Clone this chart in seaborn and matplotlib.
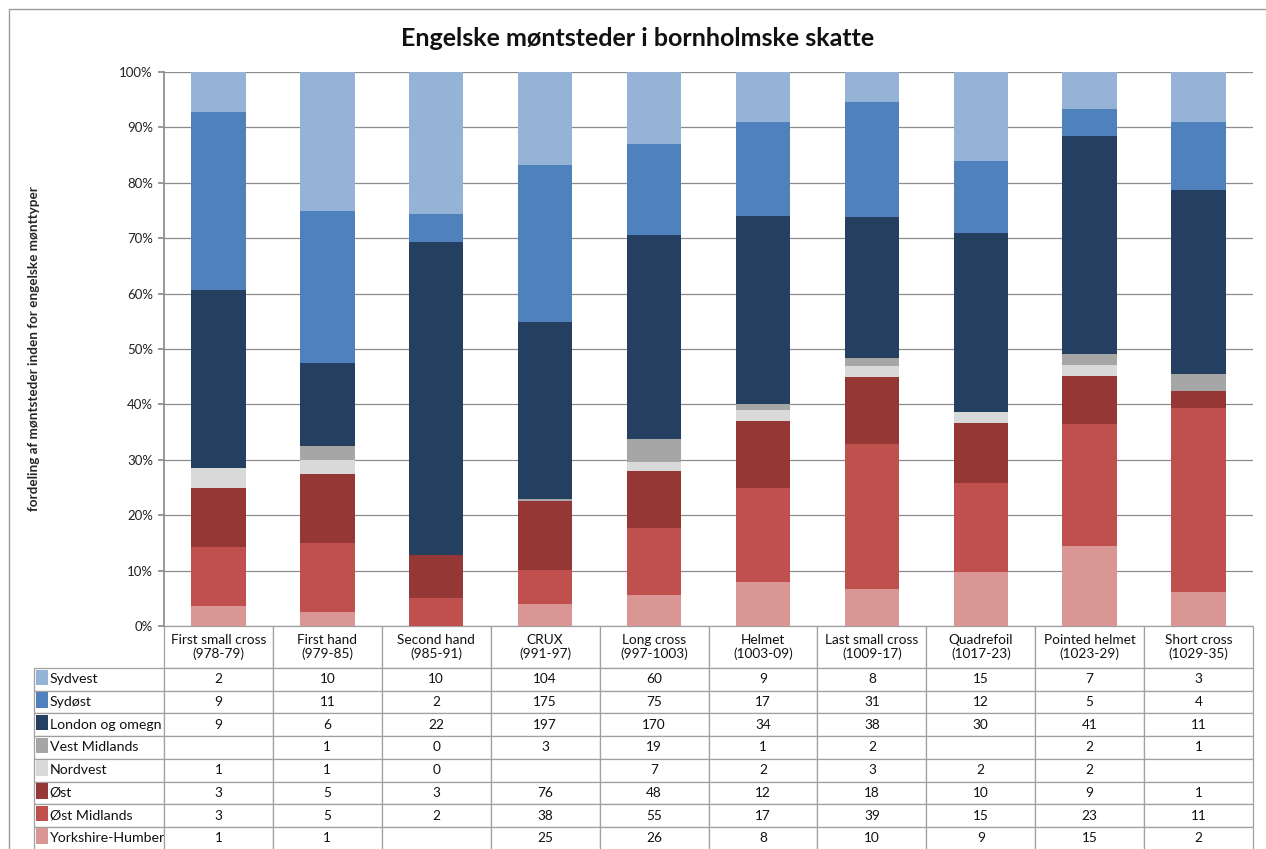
import numpy as np
import pandas as pd
import matplotlib.pyplot as plt
import seaborn as sns
from matplotlib.patches import Rectangle

# Coin types (columns of the table)
types = ['First small cross\n(978-79)', 'First hand\n(979-85)', 'Second hand\n(985-91)',
         'CRUX\n(991-97)', 'Long cross\n(997-1003)', 'Helmet\n(1003-09)',
         'Last small cross\n(1009-17)', 'Quadrefoil\n(1017-23)', 'Pointed helmet\n(1023-29)',
         'Short cross\n(1029-35)']

# Mint regions, table order (top to bottom)
regions = ['Sydvest', 'Sydøst', 'London og omegn', 'Vest Midlands', 'Nordvest',
           'Øst', 'Øst Midlands', 'Yorkshire-Humber']

# Counts per region (None = blank cell in the table)
sydvest = [2, 10, 10, 104, 60, 9, 8, 15, 7, 3]
sydost = [9, 11, 2, 175, 75, 17, 31, 12, 5, 4]
london = [9, 6, 22, 197, 170, 34, 38, 30, 41, 11]
vest_midlands = [None, 1, 0, 3, 19, 1, 2, None, 2, 1]
nordvest = [1, 1, 0, None, 7, 2, 3, 2, 2, None]
ost = [3, 5, 3, 76, 48, 12, 18, 10, 9, 1]
ost_midlands = [3, 5, 2, 38, 55, 17, 39, 15, 23, 11]
yorkshire = [1, 1, None, 25, 26, 8, 10, 9, 15, 2]

colors = ['#95B3D7', '#4F81BD', '#243F60', '#A6A6A6', '#D9D9D9',
          '#953735', '#C0504D', '#D99694']

counts = pd.DataFrame([sydvest, sydost, london, vest_midlands, nordvest,
                       ost, ost_midlands, yorkshire],
                      index=regions, columns=types, dtype=float)

sns.set_theme(style='white')
plt.rcParams['font.family'] = ['Lato', 'DejaVu Sans']

W, H = 1266, 849
AX_W, AX_H = 1089.0, 554.0
fig = plt.figure(figsize=(W / 100, H / 100), dpi=100)
ax = fig.add_axes([164 / W, (H - 626) / H, AX_W / W, AX_H / H])

# percentages, stacked from the bottom (Yorkshire-Humber) upward
filled = counts.fillna(0)
pct = filled / filled.sum(axis=0) * 100
cum = pct.iloc[::-1].cumsum()  # bottom-to-top cumulative

# draw the tallest layer first, then overlay the lower cumulative layers
for region in regions:
    c = colors[regions.index(region)]
    layer = pd.DataFrame({'type': types, 'value': cum.loc[region].values})
    sns.barplot(data=layer, x='type', y='value', color=c, saturation=1,
                width=0.5, linewidth=0, ax=ax, zorder=3)

ax.set_xlim(-0.5, len(types) - 0.5)
ax.set_ylim(0, 100)
ax.set_yticks(range(0, 101, 10))
ax.set_yticklabels([f'{v}%' for v in range(0, 101, 10)], fontsize=9.5, color='#222222')
ax.set_xticks([])
ax.set_xlabel('')
ax.yaxis.grid(True, color='#8C8C8C', linewidth=0.9, zorder=0)
ax.set_axisbelow(True)
for s in ['top', 'right', 'bottom']:
    ax.spines[s].set_visible(False)
ax.spines['left'].set_color('#8C8C8C')
ax.tick_params(axis='y', left=True, length=4, color='#8C8C8C', pad=4)

ax.set_ylabel('fordeling af møntsteder inden for engelske mønttyper',
              fontsize=9.7, fontweight='bold')
ax.yaxis.set_label_coords((40 - 164) / AX_W, 0.5)

fig.text(637.5 / W, 1 - 38 / H, 'Engelske møntsteder i bornholmske skatte',
         ha='center', va='center', fontsize=18, fontweight='bold', color='#111111')

# data table below the chart: first column holds the region names
cell_text = [[r] + ['' if np.isnan(v) else str(int(v)) for v in counts.loc[r]]
             for r in regions]
row_h = 22.7 / AX_H
head_h = 42.0 / AX_H
lab_w = (164 - 34) / AX_W
col_w = 0.1
tbl_h = head_h + row_h * len(regions)
tbl = ax.table(cellText=cell_text, colLabels=[''] + types,
               cellLoc='center', colLoc='center',
               bbox=[-lab_w, -tbl_h, 1 + lab_w, tbl_h])
tbl.auto_set_font_size(False)
for (r, c), cell in tbl.get_celld().items():
    cell.set_edgecolor('#A0A0A0')
    cell.set_linewidth(0.9)
    txt = cell.get_text()
    txt.set_fontsize(9.8)
    txt.set_color('#111111')
    txt.set_clip_on(False)
    cell.set_height(head_h if r == 0 else row_h)
    cell.set_width(lab_w if c == 0 else col_w)
    if c == 0:
        if r == 0:
            cell.visible_edges = 'open'
        txt.set_horizontalalignment('left')
        txt.set_fontsize(10.2)
        cell.PAD = 0.12

# colour swatches next to the region names
for i, r in enumerate(regions):
    top = -head_h - i * row_h
    ax.add_patch(Rectangle((-(164 - 36) / AX_W, top - 17 / AX_H), 12 / AX_W, 15.5 / AX_H,
                           transform=ax.transAxes, facecolor=colors[i],
                           edgecolor='none', clip_on=False, zorder=5))

# outer chart border
fig.add_artist(Rectangle((9 / W, -0.01), 1.0, 1 - 9 / H + 0.01, transform=fig.transFigure,
                         fill=False, edgecolor='#9A9A9A', linewidth=1))

fig.savefig('out.png', dpi=100)
